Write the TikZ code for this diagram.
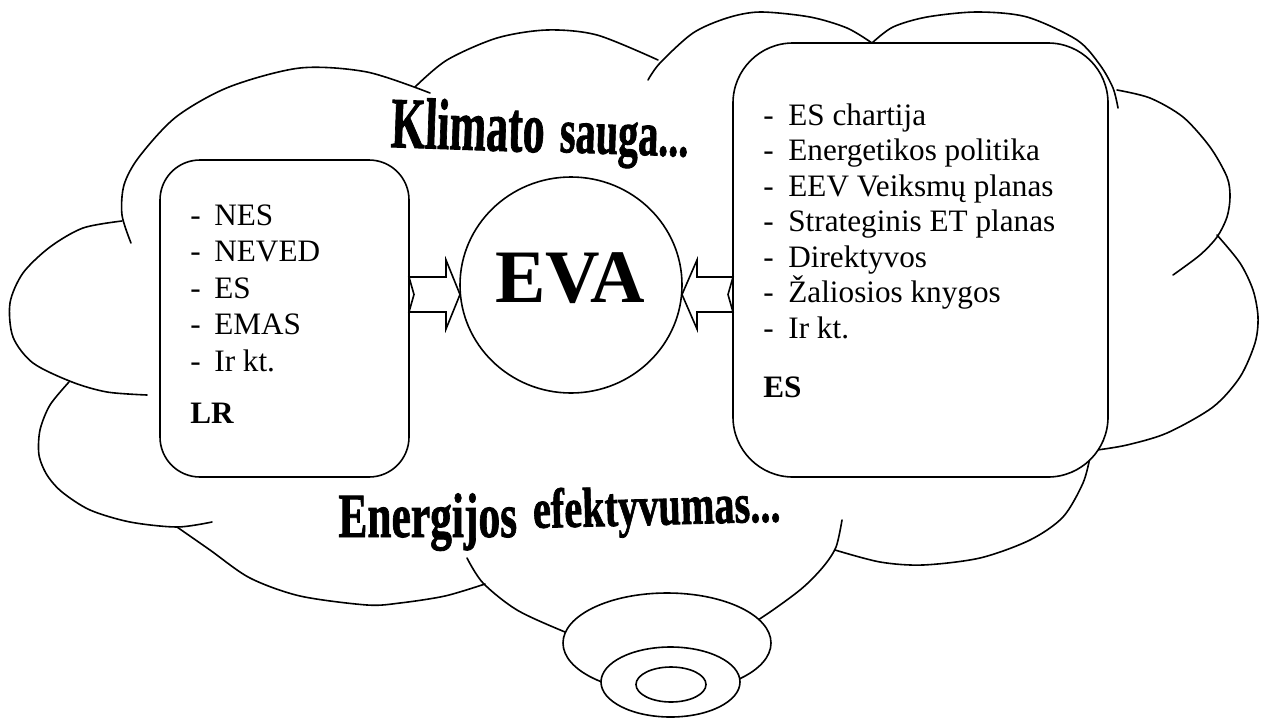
\documentclass[tikz,border=0pt]{standalone}
\usepackage{fontspec}
\usepackage{graphicx}
\setmainfont{Liberation Serif}[BoldFont={Liberation Serif Bold}]
\newfontfamily\artfont{Liberation Serif Bold}[FakeBold=1.4]
\usetikzlibrary{calc,shapes.geometric}
\begin{document}
\begin{tikzpicture}[x=0.5pt,y=-0.5pt,
  cloudline/.style={line width=0.8pt, line cap=round, line join=round},
  panel/.style={draw, line width=0.8pt, fill=white, inner sep=0pt, outer sep=0pt},
  item/.style={anchor=base west, inner sep=0pt, font=\fontsize{15.6pt}{18pt}\selectfont},
  tag/.style={anchor=base west, inner sep=0pt, font=\fontsize{15.6pt}{18pt}\selectfont\bfseries},
  art/.style={anchor=base west, inner sep=0pt},
  blockarrow/.style={draw, line width=0.8pt, fill=white, line join=miter},
  bubble/.style={draw, line width=0.8pt, fill=white, ellipse, inner sep=0pt, outer sep=0pt},
  ]
\useasboundingbox (0,0) rectangle (1263,718);

% ---- cloud outline, lobe by lobe ----
\draw[cloudline] plot[smooth] coordinates {(131,243) (122,215) (124,185) (139,157) (176,117) (229,87) (300,68) (367,72) (430,93)};
\draw[cloudline] plot[smooth] coordinates {(415,87) (447,60) (497,38) (547,30) (597,35) (658,60)};
\draw[cloudline] plot[smooth] coordinates {(648,80) (660,63) (693,33) (727,18) (760,12) (810,17) (847,28) (872,43)};
\draw[cloudline] plot[smooth] coordinates {(872,43) (893,27) (927,17) (977,12) (1027,17) (1077,40) (1100,65) (1113,88) (1118,108)};
\draw[cloudline] plot[smooth] coordinates {(1117,90) (1150,98) (1183,117) (1210,147) (1227,177) (1230,197) (1227,217) (1217,237) (1200,255) (1173,275)};
\draw[cloudline] plot[smooth] coordinates {(1217,235) (1240,263) (1253,290) (1258,317) (1255,343) (1240,377) (1213,407) (1167,433) (1127,445) (1097,450)};
\draw[cloudline] plot[smooth] coordinates {(1090,457) (1083,483) (1063,517) (1030,540) (980,558) (923,565) (880,562) (835,550)};
\draw[cloudline] plot[smooth] coordinates {(842,520) (836,547) (823,567) (800,590) (758,620) (720,640)};
\draw[cloudline] plot[smooth] coordinates {(467,558) (483,583) (517,610) (565,632) (600,645)};
\draw[cloudline] plot[smooth] coordinates {(177,527) (210,550) (250,578) (300,596) (367,605) (400,603) (445,596) (485,584)};
\draw[cloudline] plot[smooth] coordinates {(69,382) (50,405) (40,430) (39,455) (47,475) (62,492) (90,510) (130,522) (177,527) (212,522)};
\draw[cloudline] plot[smooth] coordinates {(122,221) (83,228) (50,247) (23,273) (10,303) (13,337) (33,363) (72,382) (107,392) (147,395)};

% ---- thought bubbles of the tail ----
\node[bubble, minimum width=104pt, minimum height=50pt] (tailA) at (667,643) {};
\node[bubble, minimum width=69.5pt, minimum height=35pt] (tailB) at (670.5,682) {};
\node[bubble, minimum width=35pt, minimum height=17.5pt] (tailC) at (671,684.5) {};

% ---- headline words ----
\node[art, rotate=-2] (k1) at (390,147) {\scalebox{0.61}[1]{\fontsize{36pt}{36pt}\artfont Klimato}};
\node[art, rotate=-2] (k2) at (559,152) {\scalebox{0.64}[1]{\fontsize{31.5pt}{32pt}\artfont sauga...}};
\node[art] (e1) at (338,537) {\scalebox{0.69}[1]{\fontsize{31.5pt}{32pt}\artfont Energijos}};
\node[art, rotate=1.5] (e2) at (533,528) {\scalebox{0.72}[1]{\fontsize{28pt}{30pt}\artfont efektyvumas...}};

% ---- the two document panels ----
\node[panel, rounded corners=20pt, minimum width=124.5pt, minimum height=158.5pt] (lbox) at (284.5,318.5) {};
\node[panel, rounded corners=30pt, minimum width=187.5pt, minimum height=217pt] (rbox) at (920.5,260) {};

\node[item] (l1) at (190,225)   {\makebox[12pt][l]{-}NES};
\node[item] (l2) at (190,261.5) {\makebox[12pt][l]{-}NEVED};
\node[item] (l3) at (190,298)   {\makebox[12pt][l]{-}ES};
\node[item] (l4) at (190,334.5) {\makebox[12pt][l]{-}EMAS};
\node[item] (l5) at (190,371)   {\makebox[12pt][l]{-}Ir kt.};
\node[tag]  (l6) at (190,423)   {LR};

\node[item] (r1) at (763,125)   {\makebox[12.5pt][l]{-}ES chartija};
\node[item] (r2) at (763,160.5) {\makebox[12.5pt][l]{-}Energetikos politika};
\node[item] (r3) at (763,196)   {\makebox[12.5pt][l]{-}EEV Veiksmų planas};
\node[item] (r4) at (763,231.5) {\makebox[12.5pt][l]{-}Strateginis ET planas};
\node[item] (r5) at (763,267)   {\makebox[12.5pt][l]{-}Direktyvos};
\node[item] (r6) at (763,302.5) {\makebox[12.5pt][l]{-}Žaliosios knygos};
\node[item] (r7) at (763,338)   {\makebox[12.5pt][l]{-}Ir kt.};
\node[tag]  (r8) at (763,397)   {ES};

% ---- central circle ----
\node[bubble, minimum width=111pt, minimum height=108pt] (eva) at (571,285) {};
\node[anchor=base, inner sep=0pt, font=\fontsize{37.75pt}{40pt}\selectfont\bfseries] (evatext) at (570,302) {EVA};

% ---- notched block arrows pointing at the circle ----
\coordinate (lt) at (lbox.east |- 0,294.5);
\coordinate (lh) at (eva.west |- 0,294.5);
\draw[blockarrow] ($(lt)+(0,-17.5)$) -- ($(lt)+(37,-17.5)$) -- ($(lt)+(37,-34.5)$) -- (lh)
  -- ($(lt)+(37,34.5)$) -- ($(lt)+(37,17.5)$) -- ($(lt)+(0,17.5)$) -- ($(lt)+(5,0)$) -- cycle;

\coordinate (rt) at (rbox.west |- 0,294.5);
\coordinate (rh) at (eva.east |- 0,294.5);
\draw[blockarrow] ($(rt)+(0,-17.5)$) -- ($(rt)+(-36,-17.5)$) -- ($(rt)+(-36,-34.5)$) -- (rh)
  -- ($(rt)+(-36,34.5)$) -- ($(rt)+(-36,17.5)$) -- ($(rt)+(0,17.5)$) -- ($(rt)+(-5,0)$) -- cycle;
\end{tikzpicture}
\end{document}
